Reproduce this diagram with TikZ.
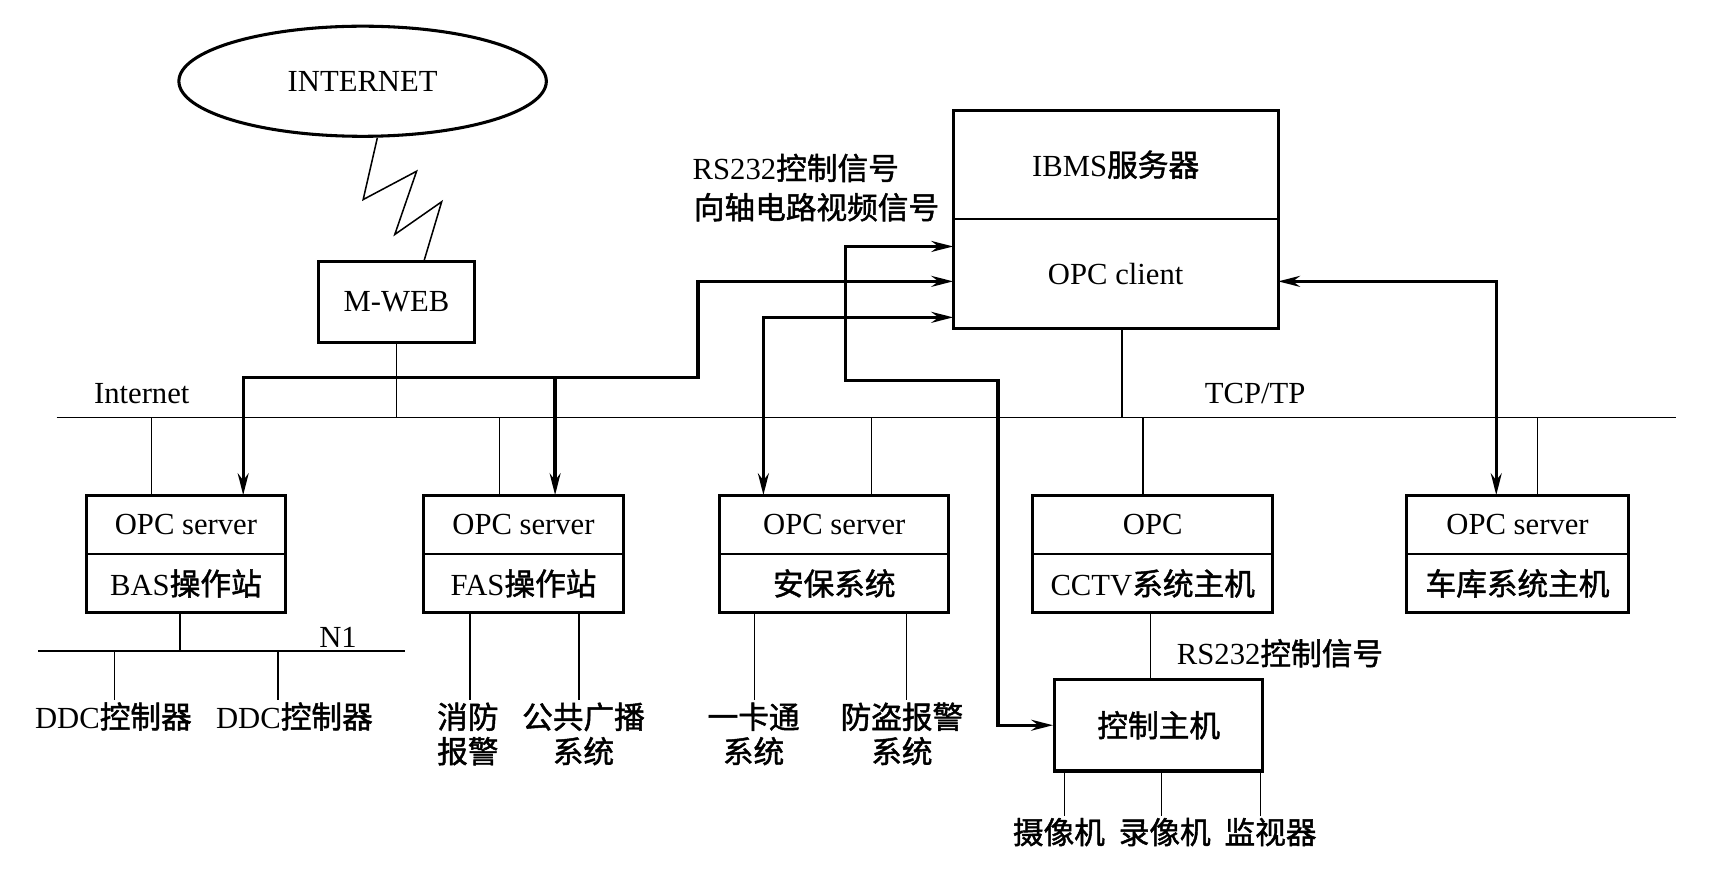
\documentclass[tikz,border=0pt]{standalone}
\usepackage{fontspec}
\setmainfont{Liberation Serif}
\newfontfamily\cjk[FakeBold=1.5]{Noto Sans CJK SC}
\newcommand{\zh}[1]{{\cjk #1}}
\usetikzlibrary{arrows.meta,positioning,shapes.geometric}

\tikzset{
  wire/.style={line width=0.8pt},
  link/.style={line width=1.7pt},
  frame/.style={line width=1.6pt},
  box/.style={draw, line width=1.6pt, inner sep=0pt},
  cell/.style={draw, line width=0.8pt, inner sep=0pt, outer sep=0pt, minimum height=1.08cm},
  netoval/.style={draw, ellipse, line width=1.6pt, inner sep=0pt, minimum width=6.74cm, minimum height=2.02cm},
  lbl/.style={inner sep=1pt, align=center}
}

\begin{document}
\begin{tikzpicture}[x=0.02cm, y=-0.02cm, font=\fontsize{16}{18}\selectfont,
    >={Stealth[length=4mm,width=2mm]}]
   \useasboundingbox (0,0) rectangle (1568,811);

   % internet and web server
   \node[netoval] (inet) at (332.5,74.5) {INTERNET};
   \node[box, minimum width=2.86cm, minimum height=1.48cm] (mweb) at (363.5,277) {M-WEB};
   \draw[wire] (inet.south -| 346,0) -- (333,183) -- (382,157) -- (362,215) -- (405,185) -- (mweb.north -| 389,0);

   % IBMS server
   \node[cell, minimum width=5.96cm, minimum height=2cm] (ibms1) at (1023,151) {IBMS\zh{服务器}};
   \node[cell, minimum width=5.96cm, minimum height=2cm, below=0pt of ibms1] (ibms2) {OPC client};
   \draw[frame] (ibms1.north west) rectangle (ibms2.south east);
   \node[anchor=west] (rs1) at (629,154) {RS232\zh{控制信号}};
   \node[anchor=west] (coax) at (630,190) {\zh{向轴电路视频信号}};

   % subsystem stations
   \foreach \n/\x/\w/\txa/\txb in {
       bas/170.5/3.66/OPC server/BAS\zh{操作站},
       fas/480/3.68/OPC server/FAS\zh{操作站},
       sec/765/4.2/OPC server/\zh{安保系统},
       cctv/1057/4.4/OPC/CCTV\zh{系统主机},
       park/1391.5/4.06/OPC server/\zh{车库系统主机}}
   {
     \node[cell, minimum width=\w cm] (\n1) at (\x,481) {\txa};
     \node[cell, minimum width=\w cm, below=0pt of \n1] (\n2) {\txb};
     \draw[frame] (\n1.north west) rectangle (\n2.south east);
   }

   % control host
   \node[box, minimum width=3.82cm, minimum height=1.68cm] (ctrl) at (1062.5,665) {\zh{控制主机}};

   % draw bus line
   \coordinate (busL) at (52,383);
   \coordinate (busR) at (1537,383);
   \draw[wire] (busL) -- (busR);
   \node (inetlbl) at (130,361) {Internet};
   \node (tcplbl) at (1151,361) {TCP/TP};
   \draw[wire] (mweb.south) -- (mweb.south |- busL);
   \draw[wire] (ibms2.south -| 1029,0) -- (1029,0 |- busL);
   \foreach \x/\n in {139/bas,458/fas,799/sec,1048/cctv,1410/park}
     \draw[wire] (\x,0 |- busL) -- (\n1.north -| \x,0);

   % signal links to OPC client
   \coordinate (j1) at (640,346);
   \coordinate (j2) at (509,346);
   \draw[link,<->] (bas1.north -| 223,0) |- (j1) |- (ibms2.west |- 0,258);
   \draw[link,->] (j2) -- (fas1.north -| j2);
   \draw[link,<->] (sec1.north -| 700,0) |- (ibms2.west |- 0,291);
   \coordinate (k1) at (775,349);
   \coordinate (k2) at (915,349);
   \draw[link,<->] (ibms2.west |- 0,226) -| (k1) -- (k2) |- (ctrl.west);
   \draw[link,<->] (ibms2.east |- 0,258) -| (park1.north -| 1372,0);

   % BAS field bus
   \coordinate (n1L) at (35,597);
   \coordinate (n1R) at (371,597);
   \draw[wire] (n1L) -- (n1R);
   \node (n1lbl) at (310,584) {N1};
   \draw[wire] (bas2.south -| 165,0) -- (165,0 |- n1L);
   \node[lbl] (ddc1) at (104,657) {DDC\zh{控制器}};
   \node[lbl] (ddc2) at (270,657) {DDC\zh{控制器}};
   \draw[wire] (105,0 |- n1L) -- (ddc1.north -| 105,0);
   \draw[wire] (255,0 |- n1L) -- (ddc2.north -| 255,0);

   % FAS and security devices
   \node[lbl] (fire) at (429,673) {\zh{消防}\\\zh{报警}};
   \node[lbl] (pa) at (535,673) {\zh{公共广播}\\\zh{系统}};
   \node[lbl] (card) at (691,673) {\zh{一卡通}\\\zh{系统}};
   \node[lbl] (theft) at (827,673) {\zh{防盗报警}\\\zh{系统}};
   \draw[wire] (fas2.south -| 431,0) -- (fire.north -| 431,0);
   \draw[wire] (fas2.south -| 531,0) -- (pa.north -| 531,0);
   \draw[wire] (sec2.south -| 692,0) -- (card.north -| 692,0);
   \draw[wire] (sec2.south -| 831,0) -- (theft.north -| 831,0);

   % CCTV devices
   \draw[wire] (cctv2.south -| 1055,0) -- (ctrl.north -| 1055,0);
   \node[anchor=west] (rs2) at (1073,599) {RS232\zh{控制信号}};
   \node[lbl] (cam) at (971,763) {\zh{摄像机}};
   \node[lbl] (rec) at (1068,763) {\zh{录像机}};
   \node[lbl] (mon) at (1165,763) {\zh{监视器}};
   \foreach \x/\n in {976/cam,1065/rec,1156/mon}
     \draw[wire] (ctrl.south -| \x,0) -- (\n.north -| \x,0);
\end{tikzpicture}
\end{document}
